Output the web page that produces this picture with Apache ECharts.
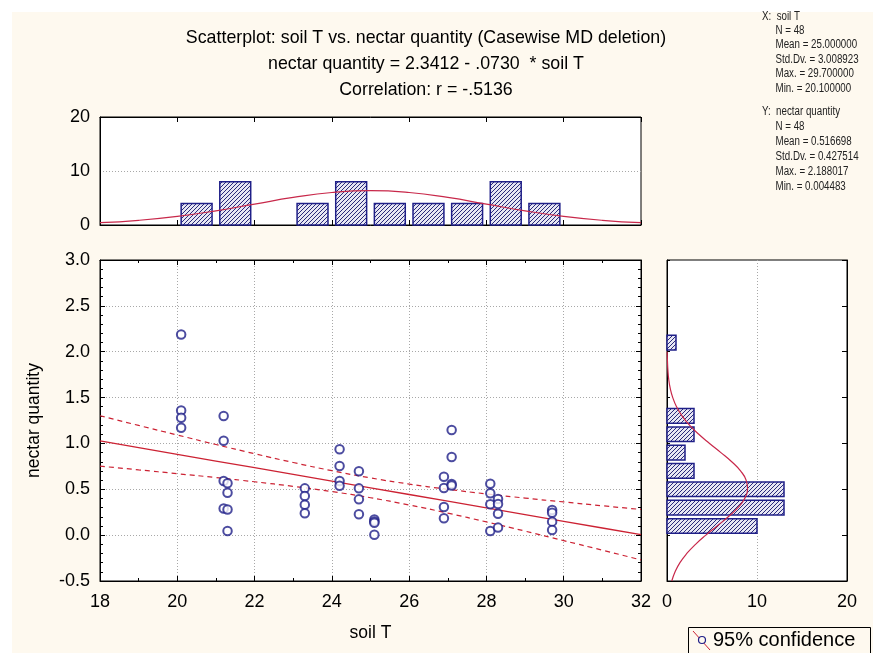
<!DOCTYPE html>
<html><head><meta charset="utf-8">
<script src="https://cdn.jsdelivr.net/npm/echarts@6/dist/echarts.min.js"></script>
<style>html,body{margin:0;padding:0;background:#fff}#c{width:873px;height:653px}</style>
</head><body><div id="c"></div>
<script>
// ---- data ----
const soilT = [20.1,20.1,20.1,20.1, 21.2,21.2,21.2,21.2, 21.3,21.3,21.3,21.3, 23.3,23.3,23.3,23.3,
  24.2,24.2,24.2,24.2, 24.7,24.7,24.7,24.7, 25.1,25.1,25.1,25.1, 26.9,26.9,26.9,26.9,
  27.1,27.1,27.1,27.1, 28.1,28.1,28.1,28.1, 28.3,28.3,28.3,28.3, 29.7,29.7,29.7,29.7];
const nectar = [2.188,1.36,1.28,1.17, 1.30,1.03,0.59,0.29, 0.565,0.463,0.28,0.046, 0.51,0.427,0.332,0.238,
  0.936,0.754,0.59,0.539, 0.696,0.51,0.39,0.228, 0.17,0.15,0.135,0.0045, 0.637,0.514,0.307,0.184,
  1.146,0.852,0.558,0.54, 0.561,0.457,0.337,0.046, 0.394,0.34,0.234,0.082, 0.275,0.245,0.147,0.057];

const topBinStart = [20,21,22,23,24,25,26,27,28,29];
const topBinWidth = 1;
const topCounts = [4,8,0,4,8,4,4,4,8,4];

const rightBinStart = [0,0.2,0.4,0.6,0.8,1.0,1.2,1.4,1.6,1.8,2.0];
const rightBinWidth = 0.2;
const rightCounts = [10,13,13,3,2,3,3,0,0,0,1];

// fitted regression line and 95% confidence band
const fitX = [18,19,20,21,22,23,24,25,26,27,28,29,30,31,32];
const fitY = [1.027,0.954,0.881,0.808,0.735,0.662,0.589,0.516,0.443,0.370,0.297,0.224,0.151,0.078,0.005];
const upperCI = [1.302,1.196,1.092,0.988,0.888,0.792,0.703,0.624,0.557,0.500,0.450,0.404,0.362,0.320,0.280];
const lowerCI = [0.752,0.712,0.670,0.628,0.582,0.532,0.475,0.408,0.329,0.240,0.144,0.044,-0.060,-0.164,-0.270];

// fitted normal curve over the soil T histogram
const normTX = [18,19,20,21,22,23,24,25,26,27,28,29,30,31,32];
const normTCount = [0.43,0.87,1.60,2.63,3.87,5.10,6.02,6.36,6.02,5.10,3.87,2.63,1.60,0.87,0.43];

// fitted normal curve over the nectar histogram
const normNY = [-0.5,-0.4,-0.3,-0.2,-0.1,0.0,0.1,0.2,0.3,0.4,0.5,0.6,0.7,0.8,0.9,1.0,1.1,1.2,1.3,1.4,1.5,1.6,1.7,1.8,1.9,2.0];
const normNCount = [0.53,0.90,1.44,2.20,3.17,4.32,5.57,6.81,7.88,8.63,8.95,8.79,8.17,7.19,5.99,4.73,3.53,2.50,1.67,1.06,0.64,0.36,0.19,0.10,0.05,0.02];

const titleLines = ['Scatterplot: soil T vs. nectar quantity (Casewise MD deletion)',
  'nectar quantity = 2.3412 - .0730  * soil T', 'Correlation: r = -.5136'];
const statsX = ['X:  soil T','     N = 48','     Mean = 25.000000','     Std.Dv. = 3.008923','     Max. = 29.700000','     Min. = 20.100000'];
const statsY = ['Y:  nectar quantity','     N = 48','     Mean = 0.516698','     Std.Dv. = 0.427514','     Max. = 2.188017','     Min. = 0.004483'];
const legendLabel = '95% confidence';

// ---- styles ----
const FONT = '"Liberation Sans", Arial, sans-serif';
const RED = '#cc2233';
const NAVY = '#1f1f88';
function hatch(){
  const c = document.createElement('canvas'); c.width = 4; c.height = 4;
  const g = c.getContext('2d');
  g.fillStyle = '#e6e6f3'; g.fillRect(0,0,4,4);
  g.strokeStyle = '#2a2a7a'; g.lineWidth = 1;
  g.beginPath();
  g.moveTo(0,4); g.lineTo(4,0);
  g.moveTo(-1,1); g.lineTo(1,-1);
  g.moveTo(3,5); g.lineTo(5,3);
  g.stroke();
  return c;
}
const pat = hatch();

const chart = echarts.init(document.getElementById('c'));
const dotted = {show:true, lineStyle:{color:'#a8a8a8', type:[1,2], width:1}};
const label18 = {fontSize:18, color:'#000', fontFamily:FONT};
const name17 = {fontSize:17.5, color:'#000', fontFamily:FONT};
const tickIn = {show:true, inside:true, length:5, lineStyle:{color:'#000'}};
const minorIn = {show:true, length:3, lineStyle:{color:'#000'}};
const axLine = {show:true, onZero:false, lineStyle:{color:'#000'}};

const zip = (a,b) => a.map((v,i)=>[v,b[i]]);

chart.setOption({
  backgroundColor:'#fff',
  animation:false,
  textStyle:{fontFamily:FONT},
  title:{
    text: titleLines.join('\n'), left:421, top:20, textAlign:'center',
    textStyle:{fontSize:17.8, fontWeight:'normal', color:'#000', lineHeight:26, fontFamily:FONT}
  },
  graphic:[
    {type:'rect', z:-10, shape:{x:12,y:12,width:861,height:641}, style:{fill:'#fef9ef'}, silent:true},
    {type:'text', left:762, top:9, scaleX:0.78, style:{text:statsX.join('\n'), fontSize:12.5, lineHeight:14.4, fill:'#222', fontFamily:FONT}},
    {type:'text', left:762, top:104, scaleX:0.78, style:{text:statsY.join('\n'), fontSize:12.5, lineHeight:15, fill:'#222', fontFamily:FONT}},
    {type:'rect', shape:{x:688.5,y:627.5,width:182,height:30}, style:{fill:'#fef9ef', stroke:'#000', lineWidth:1}},
    {type:'line', shape:{x1:693,y1:631,x2:710,y2:650}, style:{stroke:RED, lineWidth:1}},
    {type:'circle', shape:{cx:702,cy:640,r:3.5}, style:{fill:'#fef9ef', stroke:NAVY, lineWidth:1.2}},
    {type:'text', left:713, top:630, style:{text:legendLabel, fontSize:20, fill:'#000', fontFamily:FONT}}
  ],
  grid:[
    {left:100, top:117, width:541, height:108, show:true, backgroundColor:'#fff', borderColor:'#000', borderWidth:1},
    {left:100, top:260, width:541, height:321, show:true, backgroundColor:'#fff', borderColor:'#000', borderWidth:1},
    {left:667, top:260, width:180, height:321, show:true, backgroundColor:'#fff', borderColor:'#000', borderWidth:1}
  ],
  xAxis:[
    {gridIndex:0, type:'value', min:18, max:32, interval:2, position:'bottom', axisLabel:{show:false}, axisTick:tickIn, axisLine:axLine, splitLine:{show:false}},
    {gridIndex:0, type:'value', min:18, max:32, interval:2, position:'top', axisLabel:{show:false}, axisTick:tickIn, axisLine:axLine, splitLine:{show:false}},
    {gridIndex:1, type:'value', min:18, max:32, interval:2, position:'bottom', axisLabel:Object.assign({margin:12}, label18),
      axisTick:tickIn, minorTick:Object.assign({splitNumber:2}, minorIn), axisLine:axLine, splitLine:dotted,
      name:'soil T', nameLocation:'middle', nameGap:43, nameTextStyle:name17},
    {gridIndex:1, type:'value', min:18, max:32, interval:2, position:'top', axisLabel:{show:false},
      axisTick:tickIn, minorTick:Object.assign({splitNumber:2}, minorIn), axisLine:axLine, splitLine:{show:false}},
    {gridIndex:2, type:'value', min:0, max:20, interval:10, position:'bottom', axisLabel:Object.assign({margin:12}, label18),
      axisTick:{show:false}, axisLine:axLine, splitLine:dotted}
  ],
  yAxis:[
    {gridIndex:0, type:'value', min:0, max:20, interval:10, axisLabel:Object.assign({margin:10}, label18), axisTick:{show:false}, axisLine:axLine, splitLine:dotted},
    {gridIndex:1, type:'value', min:-0.5, max:3.0, interval:0.5, position:'left',
      axisLabel:Object.assign({margin:10, formatter:v=>v.toFixed(1)}, label18),
      axisTick:tickIn, minorTick:Object.assign({splitNumber:5}, minorIn), axisLine:axLine, splitLine:dotted,
      name:'nectar quantity', nameLocation:'middle', nameGap:57, nameTextStyle:name17},
    {gridIndex:1, type:'value', min:-0.5, max:3.0, interval:0.5, position:'right', axisLabel:{show:false},
      axisTick:tickIn, minorTick:Object.assign({splitNumber:5}, minorIn), axisLine:axLine, splitLine:{show:false}},
    {gridIndex:2, type:'value', min:-0.5, max:3.0, interval:0.5, position:'left', axisLabel:{show:false},
      axisTick:{show:true, inside:true, length:3, lineStyle:{color:'#000'}}, axisLine:axLine, splitLine:{show:false}},
    {gridIndex:2, type:'value', min:-0.5, max:3.0, interval:0.5, position:'right', axisLabel:{show:false},
      axisTick:tickIn, axisLine:axLine, splitLine:{show:false}}
  ],
  series:[
    {type:'custom', xAxisIndex:0, yAxisIndex:0, z:3,
      data: topBinStart.map((s,i)=>[s, topBinWidth, topCounts[i]]), encode:{x:0, y:2},
      renderItem:function(params, api){
        const s = api.value(0), w = api.value(1), n = api.value(2);
        if (!n) return null;
        const g = w*0.1;
        const p0 = api.coord([s+g, n]), p1 = api.coord([s+w-g, 0]);
        return {type:'rect', shape:{x:p0[0], y:p0[1], width:p1[0]-p0[0], height:p1[1]-p0[1]},
          style:{fill:{image:pat, repeat:'repeat'}, stroke:NAVY, lineWidth:1.5}};
      }},
    {type:'line', xAxisIndex:0, yAxisIndex:0, z:4, data: zip(normTX, normTCount), smooth:true, symbol:'none',
      lineStyle:{color:'#c8284a', width:1.2}},
    {type:'custom', xAxisIndex:4, yAxisIndex:3, z:3,
      data: rightBinStart.map((s,i)=>[s, rightBinWidth, rightCounts[i]]), encode:{x:2, y:0},
      renderItem:function(params, api){
        const s = api.value(0), w = api.value(1), n = api.value(2);
        if (!n) return null;
        const g = w*0.1;
        const p0 = api.coord([n, s+w-g]), p1 = api.coord([0, s+g]);
        return {type:'rect', shape:{x:p1[0], y:p0[1], width:p0[0]-p1[0], height:p1[1]-p0[1]},
          style:{fill:{image:pat, repeat:'repeat'}, stroke:NAVY, lineWidth:1.5}};
      }},
    {type:'line', xAxisIndex:4, yAxisIndex:3, z:4, data: zip(normNCount, normNY), smooth:true, symbol:'none',
      lineStyle:{color:'#c8284a', width:1.2}},
    {type:'line', name:'fit', xAxisIndex:2, yAxisIndex:1, data: zip(fitX, fitY), symbol:'none', lineStyle:{color:RED, width:1.3}},
    {type:'line', name:legendLabel, xAxisIndex:2, yAxisIndex:1, data: zip(fitX, upperCI), smooth:true, symbol:'none', lineStyle:{color:RED, width:1.2, type:[5,4]}},
    {type:'line', name:legendLabel, xAxisIndex:2, yAxisIndex:1, data: zip(fitX, lowerCI), smooth:true, symbol:'none', lineStyle:{color:RED, width:1.2, type:[5,4]}},
    {type:'scatter', xAxisIndex:2, yAxisIndex:1, z:5, data: zip(soilT, nectar), symbol:'emptyCircle', symbolSize:8.5,
      itemStyle:{color:NAVY, borderColor:NAVY, borderWidth:1.2}}
  ]
});
</script></body></html>
